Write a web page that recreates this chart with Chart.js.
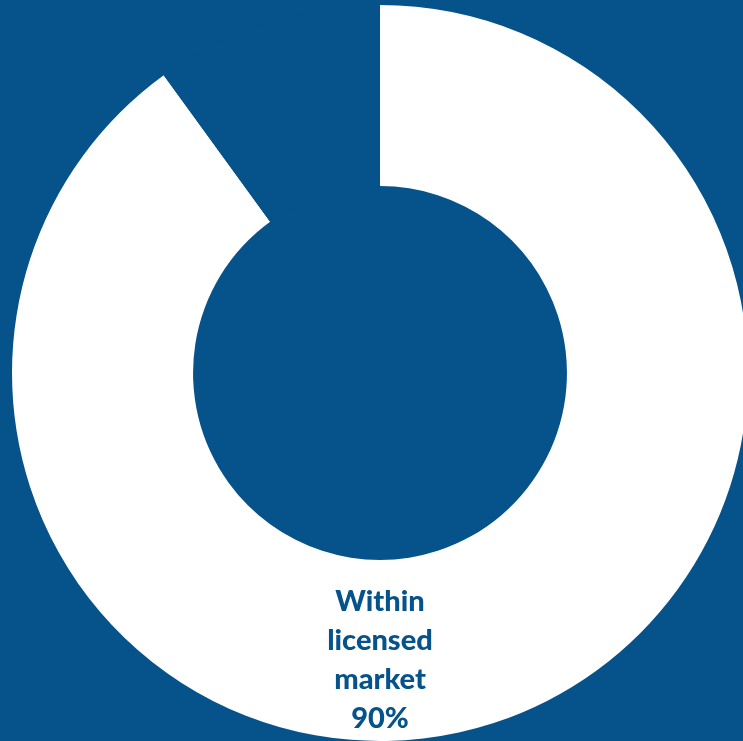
<!DOCTYPE html>
<html>
<head>
<meta charset="utf-8">
<script src="https://cdn.jsdelivr.net/npm/chart.js@4"></script>
<style>
    html, body { margin: 0; padding: 0; background: #05538a; overflow: hidden; width: 743px; height: 741px; }
    #wrap { position: absolute; left: 12px; top: 5px; width: 736px; height: 736px; }
</style>
</head>
<body>
<div id="wrap"><canvas id="graficoMercado"></canvas></div>
<script>
const categorias = ['Within licensed market', 'Outside licensed market'];
const valores = [90, 10];
const rotulo = ['Within', 'licensed', 'market', '90%'];

const azul = '#05538a';

// desenha o texto na parte de baixo do anel
const textoAnel = {
    id: 'textoAnel',
    afterDatasetsDraw(chart) {
        const arco = chart.getDatasetMeta(0).data[0];
        const c = chart.ctx;
        const meio = (arco.innerRadius + arco.outerRadius) / 2;
        const x = arco.x;
        const y = arco.y + meio + 10;
        const altura = 39;
        c.save();
        c.fillStyle = azul;
        c.font = '900 29px Lato';
        c.textAlign = 'center';
        c.textBaseline = 'middle';
        rotulo.forEach((linha, i) => {
            c.fillText(linha, x, y + (i - (rotulo.length - 1) / 2) * altura);
        });
        c.restore();
    }
};

const ctx = document.getElementById('graficoMercado');

new Chart(ctx, {
    type: 'doughnut',

    data: {
        labels: categorias,

        datasets: [
            {
                data: valores,
                backgroundColor: ['#ffffff', azul],
                borderWidth: 0
            }
        ]
    },

    options: {
        responsive: true,
        maintainAspectRatio: false,
        animation: false,
        cutout: '50.8%',
        layout: { padding: 0 },
        plugins: {
            legend: { display: false },
            tooltip: { enabled: false }
        }
    },

    plugins: [textoAnel]
});
</script>
</body>
</html>
